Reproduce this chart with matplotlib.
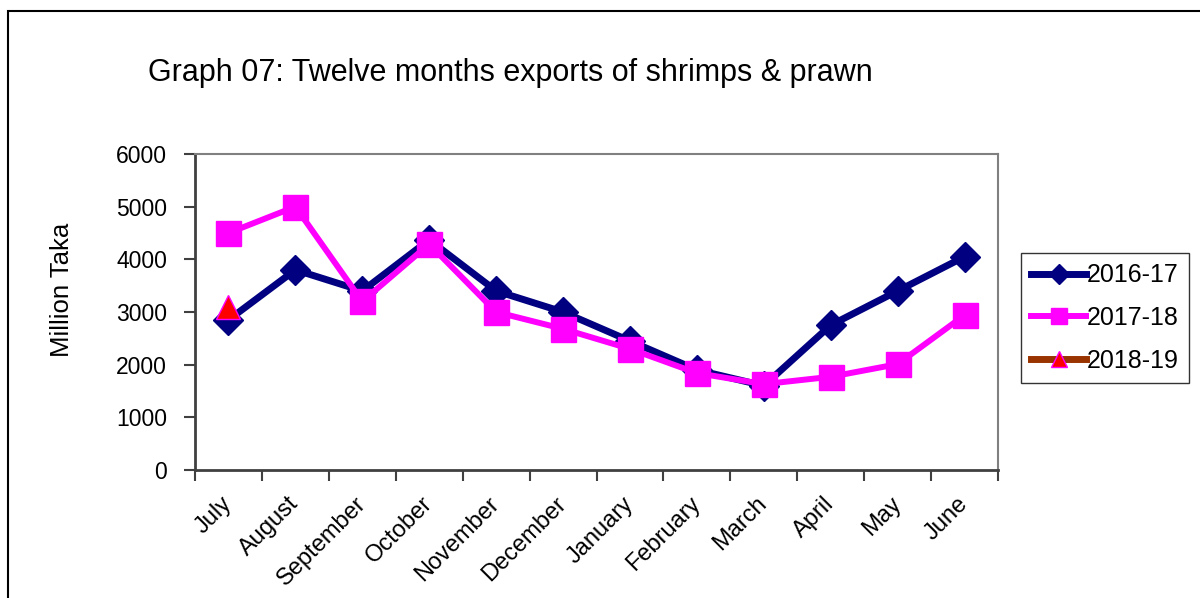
import matplotlib
matplotlib.use("Agg")
import matplotlib.pyplot as plt
from matplotlib.patches import Rectangle
import numpy as np

months = ["July", "August", "September", "October", "November", "December",
          "January", "February", "March", "April", "May", "June"]
s2016_17 = [2850, 3800, 3400, 4370, 3400, 3000, 2450, 1900, 1600, 2750, 3400, 4050]
s2017_18 = [4500, 5000, 3200, 4290, 3000, 2680, 2300, 1840, 1630, 1770, 2010, 2940]
s2018_19 = [3100]
yticks = [0, 1000, 2000, 3000, 4000, 5000, 6000]

plt.rcParams['font.family'] = ['Liberation Sans', 'DejaVu Sans']

W, H = 1200, 598
fig = plt.figure(figsize=(W / 100, H / 100), dpi=100)

# outer chart frame
fig.patches.append(Rectangle((8 / W, -0.1), 1.5, (H - 11) / H + 0.1, transform=fig.transFigure,
                             fill=False, edgecolor='black', linewidth=1.5))

ax = fig.add_axes([195 / W, 1 - 470 / H, (998 - 195) / W, (470 - 154) / H])
x = np.arange(len(months)) + 0.5

ax.plot(x, s2016_17, color='#000080', linewidth=5, marker='D', markersize=15,
        markerfacecolor='#000080', markeredgecolor='#000080', label='2016-17', zorder=3)
ax.plot(x, s2017_18, color='#FF00FF', linewidth=4.3, marker='s', markersize=18,
        markerfacecolor='#FF00FF', markeredgecolor='#FF00FF', label='2017-18', zorder=4)
ax.plot(x[:len(s2018_19)], s2018_19, color='#993300', linewidth=5, marker='^', markersize=17,
        markerfacecolor='#FF0000', markeredgecolor='#FF00FF', markeredgewidth=1, label='2018-19', zorder=5)

ax.set_xlim(0, 12)
ax.set_ylim(0, 6000)
ax.set_yticks(yticks)
ax.set_yticklabels([str(v) for v in yticks], fontsize=16.5)
ax.set_xticks(np.arange(0, 13))
ax.set_xticklabels([])
ax.set_xticks(x, minor=True)
ax.set_xticklabels(months, minor=True, rotation=45, ha='right', va='center',
                   rotation_mode='anchor', fontsize=17)
ax.tick_params(axis='x', which='minor', length=0, pad=22)
ax.tick_params(axis='x', which='major', length=8, width=1.5, color='#404040', direction='out')
ax.tick_params(axis='y', length=8, width=1.5, color='#404040', direction='out', pad=12)

for side in ['top', 'right']:
    ax.spines[side].set_color('#808080')
    ax.spines[side].set_linewidth(1.5)
for side in ['left', 'bottom']:
    ax.spines[side].set_color('#404040')
    ax.spines[side].set_linewidth(2)

fig.text(62 / W, 1 - 290 / H, 'Million Taka', fontsize=18.5, rotation=90,
         ha='center', va='center')

fig.text(148 / W, 1 - 73 / H, 'Graph 07: Twelve months exports of shrimps & prawn',
         fontsize=22, ha='left', va='center')

leg = fig.legend(loc='center left', bbox_to_anchor=(1021 / W, 1 - 318 / H), fontsize=18,
                 frameon=True, fancybox=False, edgecolor='black', handlelength=2.2,
                 handletextpad=0.05, borderpad=0.4, borderaxespad=0, labelspacing=0.75,
                 markerscale=0.65)
leg.get_frame().set_linewidth(1)

fig.savefig('out.png', dpi=100)
